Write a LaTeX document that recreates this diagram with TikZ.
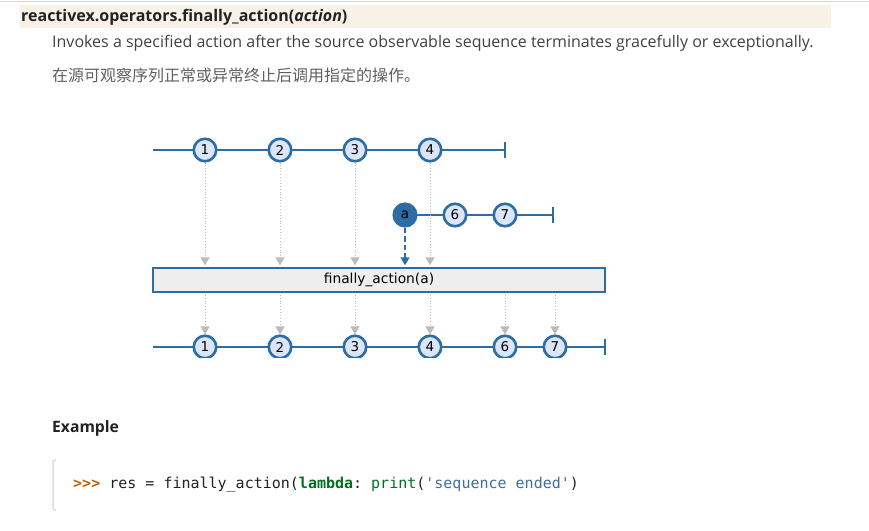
\documentclass[tikz,border=0pt]{standalone}
\usepackage{fontspec}
\setmainfont{Open Sans}
\setmonofont{DejaVu Sans Mono}
\newfontfamily\diagfont{DejaVu Sans}
\newfontfamily\cjk{Noto Sans CJK SC}
\usepackage{tikz}
\usetikzlibrary{arrows.meta,calc,positioning}

\definecolor{rxblue}{RGB}{46,109,164}
\definecolor{rxfill}{RGB}{220,230,250}
\definecolor{rxgray}{RGB}{187,187,187}
\definecolor{hdrbg}{RGB}{248,241,231}
\definecolor{opbg}{RGB}{238,238,238}
\definecolor{txtdark}{RGB}{34,34,34}
\definecolor{txtgray}{RGB}{64,64,64}
\definecolor{cjkgray}{RGB}{95,95,95}
\definecolor{promptc}{RGB}{198,93,9}
\definecolor{kwgreen}{RGB}{0,112,32}
\definecolor{strblue}{RGB}{64,112,160}

\tikzset{
  marble/.style={circle,draw=rxblue,fill=rxfill,line width=2.6pt,inner sep=0pt,
    minimum size=22.5pt,font=\diagfont\fontsize{13.5}{13.5}\selectfont},
  marblefull/.style={marble,fill=rxblue},
  timeline/.style={draw=rxblue,line width=2.6pt},
  passarrow/.style={draw=rxgray,dotted,line width=0.9pt,
    -{Triangle[width=9pt,length=8pt,fill=rxgray,sep=0pt]}},
  actarrow/.style={draw=rxblue,dash pattern=on 5.5pt off 3pt,line width=1.4pt,
    -{Triangle[width=9pt,length=8pt,fill=rxblue]}},
  opbox/.style={draw=rxblue,fill=opbg,line width=2.4pt,minimum width=452pt,
    minimum height=24pt,inner sep=0pt,font=\diagfont\fontsize{13.8}{13.8}\selectfont}
}

\begin{document}
\begin{tikzpicture}[x=1pt,y=-1pt]
\useasboundingbox (0,0) rectangle (869,530);
% page frame
\draw[draw=rxgray!60,line width=1pt] (0,1) -- (869,1);
\fill[hdrbg] (20,5) rectangle (831,28);
\node[anchor=west,inner sep=0pt,text=txtdark,font=\bfseries\fontsize{16}{16}\selectfont] (title) at (21,17)
  {reactivex.operators.finally\_action(\textit{action})};
\node[anchor=west,inner sep=0pt,text=txtgray,font=\fontsize{16}{16}\selectfont] (desc) at (52,43)
  {Invokes a specified action after the source observable sequence terminates gracefully or exceptionally.};
\node[anchor=west,inner sep=0pt,text=cjkgray,font=\cjk\fontsize{16}{16}\selectfont] (desczh) at (52,75)
  {在源可观察序列正常或异常终止后调用指定的操作。};

% marble diagram
\begin{scope}
\clip (152,137) rectangle (606,357);
% source
\coordinate (srcstart) at (153,150);
\coordinate (srcend) at (505,150);
\draw[timeline] (srcstart) -- (srcend);
\draw[timeline] ($(srcend)+(0,-8)$) -- ($(srcend)+(0,8)$);
\node[marble] (t1) at (205,150) {1};
\node[marble] (t2) at (280,150) {2};
\node[marble] (t3) at (355,150) {3};
\node[marble] (t4) at (430,150) {4};
% action
\coordinate (actend) at (553,215);
\draw[timeline] (405,215) -- (actend);
\draw[timeline] ($(actend)+(0,-8)$) -- ($(actend)+(0,8)$);
\node[marblefull] (a) at (405,215) {a};
\node[marble] (s6) at (455,215) {6};
\node[marble] (s7) at (505,215) {7};
% operator
\node[opbox] (op) at (379,280) {finally\_action(a)};
% result
\coordinate (resstart) at (153,347);
\coordinate (resend) at (605,347);
\draw[timeline] (resstart) -- (resend);
\draw[timeline] ($(resend)+(0,-8)$) -- ($(resend)+(0,8)$);
\node[marble] (r1) at (205,347) {1};
\node[marble] (r2) at (280,347) {2};
\node[marble] (r3) at (355,347) {3};
\node[marble] (r4) at (430,347) {4};
\node[marble] (r6) at (505,347) {6};
\node[marble] (r7) at (555,347) {7};
% arrows in
\foreach \n in {t1,t2,t3,t4}
  \draw[passarrow] (\n.south) -- ($(op.north -| \n)+(0,-1.5)$);
\draw[actarrow] (a.south) -- ($(op.north -| a)+(0,-1.5)$);
% arrows out
\foreach \n in {r1,r2,r3,r4,r6,r7}
  \draw[passarrow] ($(op.south -| \n)+(0,1.5)$) -- (\n.north);
\end{scope}

% example
\node[anchor=west,inner sep=0pt,text=txtdark,font=\bfseries\fontsize{15.7}{15.7}\selectfont] (exhead) at (52,428) {Example};
\draw[rxgray!50,line width=1.5pt,rounded corners=2pt] (56,460) -- (53,460) -- (53,510) -- (56,510);
\node[anchor=west,inner sep=0pt,font=\ttfamily\fontsize{15}{15}\selectfont] (code) at (73,485)
  {\textcolor{promptc}{\bfseries >{}>{}>} \textcolor{txtdark}{res = finally\_action(}\textcolor{kwgreen}{\bfseries lambda}\textcolor{txtdark}{: }\textcolor{kwgreen}{print}\textcolor{txtdark}{(}\textcolor{strblue}{'sequence ended'}\textcolor{txtdark}{)}};
\end{tikzpicture}
\end{document}
